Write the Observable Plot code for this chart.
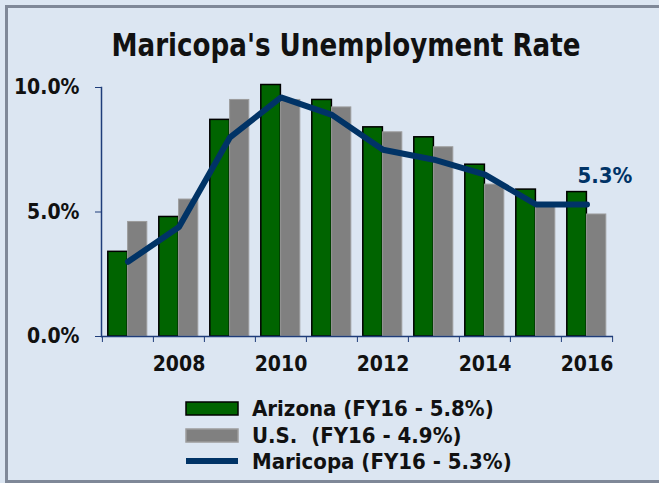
<!DOCTYPE html>
<html><head><meta charset="utf-8">
<script src="https://cdn.jsdelivr.net/npm/d3@7"></script>
<script src="https://cdn.jsdelivr.net/npm/@observablehq/plot@0.6"></script>
<style>
body{margin:0;background:#dce6f2;}
#chart{position:relative;width:659px;height:483px;background:#dce6f2;overflow:hidden;}
#border{position:absolute;left:5px;top:5px;width:720px;height:478px;border:3px solid #7f8898;box-sizing:border-box;}
#plot{position:absolute;left:0;top:0;}
#title,#legend{position:absolute;left:0;top:0;}
text{font-family:"DejaVu Sans Condensed","DejaVu Sans",sans-serif;font-stretch:condensed;font-weight:bold;}
</style>
</head><body>
<div id="chart">
<div id="border"></div>
<svg id="title" width="659" height="80"></svg>
<div id="plot"></div>
<svg id="legend" width="659" height="483"></svg>
</div>
<script>
const titleText = "Maricopa's Unemployment Rate";
const years = [2007, 2008, 2009, 2010, 2011, 2012, 2013, 2014, 2015, 2016];
const arizona = [3.4, 4.8, 8.7, 10.1, 9.5, 8.4, 8.0, 6.9, 5.9, 5.8];
const us = [4.6, 5.5, 9.5, 9.5, 9.2, 8.2, 7.6, 6.1, 5.3, 4.9];
const maricopa = [3.0, 4.4, 8.0, 9.6, 8.9, 7.5, 7.1, 6.5, 5.3, 5.3];
const yTicks = [0, 5, 10];
const xLabels = [2008, 2010, 2012, 2014, 2016];
const legendLabels = ["Arizona (FY16 - 5.8%)", "U.S.  (FY16 - 4.9%)", "Maricopa (FY16 - 5.3%)"];

const GREEN = "#006400", GRAY = "#808080", NAVY = "#003366", AXIS = "#1f3d7a";
const FONT = '"DejaVu Sans Condensed","DejaVu Sans",sans-serif';

const rows = years.map((year, i) => ({year, arizona: arizona[i], us: us[i], maricopa: maricopa[i]}));
const half = 25.6;

const plot = Plot.plot({
  width: 659, height: 400,
  marginLeft: 101, marginRight: 46, marginTop: 87, marginBottom: 64,
  x: {type: "band", domain: years, padding: 0, axis: null},
  y: {domain: [0, 10], axis: null},
  style: {background: "transparent", fontFamily: FONT, fontWeight: "bold", overflow: "visible"},
  marks: [
    Plot.barY(rows, {x: "year", y: "arizona", fill: GREEN, stroke: "#000", strokeWidth: 1.5, insetLeft: 5.8, insetRight: 25.6}),
    Plot.barY(rows, {x: "year", y: "us", fill: GRAY, stroke: "#9c9c9c", strokeWidth: 1, insetLeft: 25.6, insetRight: 6.2}),
    Plot.line(rows, {x: "year", y: "maricopa", stroke: NAVY, strokeWidth: 6, strokeLinejoin: "miter"}),
    Plot.text(rows.slice(-1), {x: "year", y: "maricopa", text: d => d.maricopa.toFixed(1) + "%", dx: 18, dy: -29, fill: NAVY, fontSize: 22, fontWeight: "bold"}),
    Plot.frame({anchor: "left", stroke: AXIS, strokeWidth: 1.5}),
    Plot.ruleY([0], {stroke: AXIS, strokeWidth: 1.5}),
    Plot.axisY(yTicks, {tickSize: 6, tickPadding: 16, stroke: AXIS, fill: "#111", fontSize: 21, fontWeight: "bold", label: null, tickFormat: d => d.toFixed(1) + "%"}),
    Plot.axisX(years, {tickSize: 6, dx: -half, stroke: AXIS, label: null, tickFormat: () => ""}),
    Plot.axisX(years.slice(-1), {tickSize: 6, dx: half, stroke: AXIS, label: null, tickFormat: () => ""}),
    Plot.axisX(xLabels, {tickSize: 0, tickPadding: 20, fill: "#111", fontSize: 21, fontWeight: "bold", label: null, tickFormat: d => String(d)})
  ]
});
document.getElementById("plot").appendChild(plot);

const ts = d3.select("#title");
ts.append("text").attr("x", 346).attr("y", 56).attr("text-anchor", "middle")
  .attr("font-size", 32).attr("fill", "#111")
  .attr("textLength", 469).attr("lengthAdjust", "spacingAndGlyphs").text(titleText);

const lg = d3.select("#legend");
const swatches = [
  {type: "rect", fill: GREEN, stroke: "#000"},
  {type: "rect", fill: GRAY, stroke: "#9c9c9c"},
  {type: "line", stroke: NAVY}
];
const baselines = [416, 443, 469];
legendLabels.forEach((lab, i) => {
  const s = swatches[i];
  const yb = baselines[i];
  if (s.type === "rect") {
    lg.append("rect").attr("x", 186).attr("y", yb - 14).attr("width", 52).attr("height", 13)
      .attr("fill", s.fill).attr("stroke", s.stroke).attr("stroke-width", 1.5);
  } else {
    lg.append("line").attr("x1", 186).attr("x2", 238).attr("y1", yb - 8).attr("y2", yb - 8)
      .attr("stroke", s.stroke).attr("stroke-width", 6);
  }
  lg.append("text").attr("x", 252).attr("y", yb).attr("font-size", 22).attr("fill", "#111")
    .attr("xml:space", "preserve").style("white-space", "pre").text(lab);
});
</script>
</body></html>
